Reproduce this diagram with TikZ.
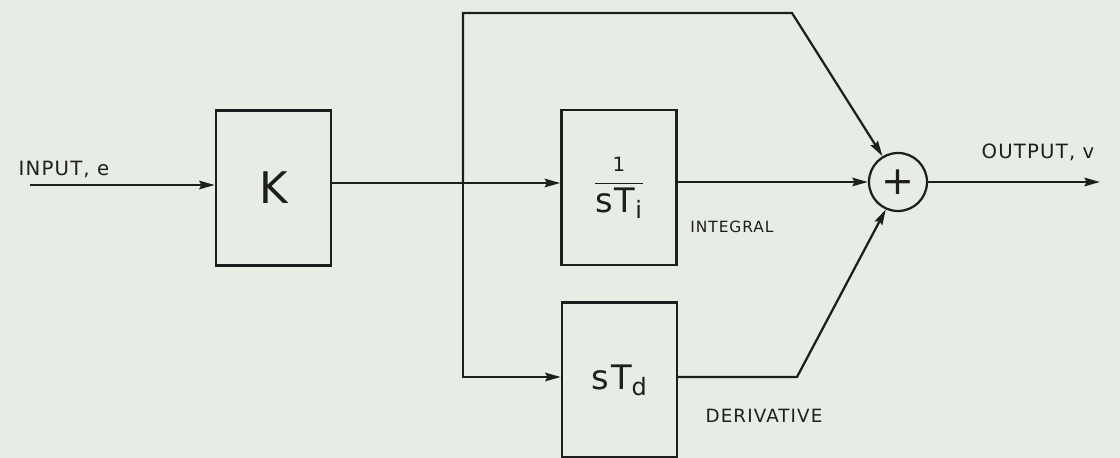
\documentclass[tikz,border=0pt]{standalone}
\usepackage{amsmath}
\usepackage{fontspec}
\usetikzlibrary{positioning, arrows.meta}
\newfontfamily\handfont{DejaVu Sans}[LetterSpace=6]
\definecolor{paper}{HTML}{E7ECE5}
\definecolor{ink}{HTML}{1E1E1E}
\begin{document}
\begin{tikzpicture}[x=0.025cm, y=-0.025cm, line width=1.6pt, draw=ink, text=ink,
    every node/.style={font=\handfont},
    block/.style={draw, line width=1.6pt, inner sep=0pt,
      minimum width=2.88cm, minimum height=3.87cm},
    sumnode/.style={draw, circle, line width=1.6pt, inner sep=0pt, minimum size=1.45cm},
    sig/.style={-{Stealth[length=11pt, width=6pt, inset=1.5pt]}},
    tag/.style={font=\handfont\fontsize{11}{13}\selectfont}]
  % paper and frame
  \fill[paper] (0,0) rectangle (1120,458);
  \useasboundingbox (0,0) rectangle (1120,458);
  % blocks
  \node[block] (gain) at (273.5,188) {\fontsize{31}{31}\selectfont K};
  \node[block] (integ) at (619,187.5)
    {\fontsize{22}{26}\selectfont
     $\dfrac{\mbox{\handfont\fontsize{14}{14}\selectfont 1}}{\mbox{\handfont\fontsize{24}{24}\selectfont sT$_{\mbox{\handfont\fontsize{17}{17}\selectfont i}}$}}$};
  \node[block] (deriv) at (619.5,380)
    {\fontsize{24}{24}\selectfont sT$_{\mbox{\handfont\fontsize{17}{17}\selectfont d}}$};
  \node[sumnode] (sum) at (898,182) {\fontsize{28}{28}\selectfont +};
  % labels
  \node[font=\handfont\fontsize{14}{16}\selectfont] (inlbl) at (64,169) {INPUT, e};
  \node[font=\handfont\fontsize{14}{16}\selectfont] (outlbl) at (1038,152) {OUTPUT, v};
  \node[tag] (intlbl) at (732,227) {INTEGRAL};
  \node[tag, font=\handfont\fontsize{13}{15}\selectfont] (derlbl) at (764,416) {DERIVATIVE};
  % junction points
  \coordinate (inp) at (30,185);
  \coordinate (split) at (463,183);
  \coordinate (topk) at (792,13);
  \coordinate (dsplit) at (463,377);
  \coordinate (botk) at (797,377);
  \coordinate (outp) at (1100,182);
  % connectors
  \draw[sig] (inp) -- (gain.west |- inp);
  \draw (gain.east |- split) -- (split);
  \draw[sig] (split) -- (integ.west |- split);
  \draw[sig] (split) |- (topk) -- (sum.121);
  \draw[sig] (split) -- (dsplit) -- (deriv.west |- dsplit);
  \draw[sig] (integ.east |- sum) -- (sum.west);
  \draw[sig] (deriv.east |- botk) -- (botk) -- (sum.246);
  \draw[sig] (sum.east) -- (outp);
\end{tikzpicture}
\end{document}
